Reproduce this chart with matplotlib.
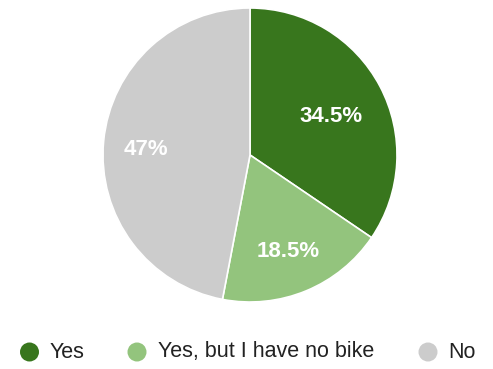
import numpy as np
import matplotlib.pyplot as plt

plt.rcParams["font.family"] = ["Liberation Sans", "DejaVu Sans"]

# Survey answers: share of respondents
labels = ["Yes", "Yes, but I have no bike", "No"]
shares = [34.5, 18.5, 47.0]
colors = ["#38761d", "#93c47d", "#cccccc"]

W, H = 493, 369
fig = plt.figure(figsize=(W / 100, H / 100), dpi=100)
fig.patch.set_facecolor("white")

# pie box in pixels: centre (250, 155), radius 147
cx, cy, r = 250, 155, 147
ax = fig.add_axes([(cx - r) / W, (H - cy - r) / H, 2 * r / W, 2 * r / H])

wedges, texts, autotexts = ax.pie(
    shares, colors=colors, startangle=90, counterclock=False, radius=1,
    autopct=lambda p: f"{p:.1f}%".replace(".0%", "%"),
    wedgeprops=dict(edgecolor="white", linewidth=1.2),
    textprops=dict(color="white", fontsize=16, fontweight="bold"))
ax.set_xlim(-1, 1)
ax.set_ylim(-1, 1)
ax.set_aspect("equal")
ax.axis("off")

# push each percentage label to its own radius inside the wedge,
# nudged a few pixels down
label_dist = [0.62, 0.68, 0.71]
nudge = 4 / r
for w, t, d in zip(wedges, autotexts, label_dist):
    a = np.deg2rad((w.theta1 + w.theta2) / 2)
    t.set_position((d * np.cos(a), d * np.sin(a) - nudge))

# legend row drawn on an overlay in pixel units
lax = fig.add_axes([0, 0, 1, 1], zorder=-1)
lax.set_xlim(0, W)
lax.set_ylim(H, 0)
lax.axis("off")
marker_x = [29.5, 137, 428]
ly = 352
marker_d = 19 * 0.72  # 19 px across, in points
lax.scatter(marker_x, [ly] * 3, s=marker_d ** 2, c=colors, linewidths=0)
for x, lab in zip(marker_x, labels):
    lax.text(x + 20.5, ly, lab, color="#222222", fontsize=15.5,
             ha="left", va="center")

fig.savefig("out.png", dpi=100)
